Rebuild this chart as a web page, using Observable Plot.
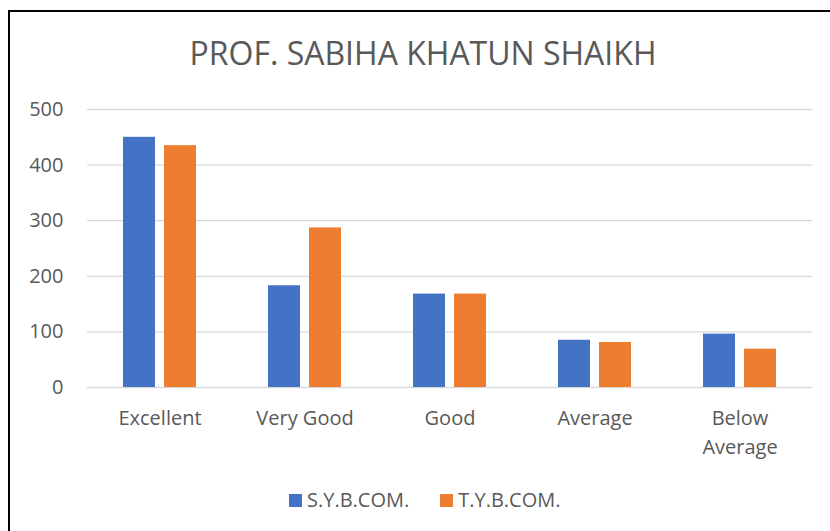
<!DOCTYPE html>
<html>
<head>
<meta charset="utf-8">
<script src="https://cdn.jsdelivr.net/npm/d3@7"></script>
<script src="https://cdn.jsdelivr.net/npm/@observablehq/plot@0.6"></script>
<style>
  html, body { margin: 0; padding: 0; background: #fff; }
  #wrap { position: relative; width: 830px; height: 531px; overflow: hidden; font-family: "Open Sans", sans-serif; color: #595959; }
  #frame { position: absolute; left: 8px; top: 10px; width: 900px; height: 600px; border: 2px solid #000; box-sizing: border-box; }
  #title { position: relative; margin: 37px 0 0 0; height: 53px; font-size: 32px; line-height: 32px; text-align: center; padding-left: 16px; }
  #chart { position: relative; height: 377px; }
  #legend { position: relative; margin-top: 23px; font-size: 20px; line-height: 20px; display: flex; align-items: center; padding-left: 289px; }
  .sw { display: inline-block; width: 13px; height: 13px; margin-right: 5px; }
  .item { display: flex; align-items: center; margin-right: 31px; }
</style>
</head>
<body>
<div id="wrap">
  <div id="frame"></div>
  <div id="title"></div>
  <div id="chart"></div>
  <div id="legend"></div>
</div>
<script>
const title = "PROF. SABIHA KHATUN SHAIKH";
const categories = ["Excellent", "Very Good", "Good", "Average", "Below Average"];
const categoryLabels = ["Excellent", "Very Good", "Good", "Average", "Below\nAverage"];
const seriesNames = ["S.Y.B.COM.", "T.Y.B.COM."];
const syValues = [450, 183, 168, 85, 96];
const tyValues = [435, 287, 168, 81, 69];
const seriesColors = ["#4472C4", "#ED7D31"];
const yTicks = [0, 100, 200, 300, 400, 500];

const data = categories.flatMap((c, i) => [
  {category: c, series: seriesNames[0], value: syValues[i]},
  {category: c, series: seriesNames[1], value: tyValues[i]}
]);

document.getElementById("title").textContent = title;

const chart = Plot.plot({
  width: 830,
  height: 377,
  marginLeft: 86,
  marginRight: 18,
  marginTop: 19,
  marginBottom: 80,
  style: {fontFamily: "Open Sans, sans-serif", color: "#595959", background: "transparent", overflow: "visible"},
  fx: {domain: categories, padding: 0, label: null},
  x: {domain: seriesNames, paddingInner: 0.217, paddingOuter: 0.858, axis: null},
  y: {domain: [0, 500], label: null},
  color: {domain: seriesNames, range: seriesColors},
  marks: [
    Plot.gridY(yTicks, {stroke: "#d9d9d9", strokeOpacity: 1, strokeWidth: 1.3}),
    Plot.barY(data, {fx: "category", x: "series", y: "value", fill: "series"}),
    Plot.axisY(yTicks, {tickSize: 0, tickPadding: 24, fontSize: 20, label: null, fill: "#595959"}),
    Plot.axisFx({anchor: "bottom", tickSize: 0, tickPadding: 17, fontSize: 20, lineHeight: 1.45, label: null, fill: "#595959",
      tickFormat: d => categoryLabels[categories.indexOf(d)]})
  ]
});
document.getElementById("chart").appendChild(chart);

const legend = document.getElementById("legend");
seriesNames.forEach((s, i) => {
  const item = document.createElement("div");
  item.className = "item";
  const sw = document.createElement("span");
  sw.className = "sw";
  sw.style.background = seriesColors[i];
  const t = document.createElement("span");
  t.textContent = s;
  item.appendChild(sw);
  item.appendChild(t);
  legend.appendChild(item);
});
</script>
</body>
</html>
